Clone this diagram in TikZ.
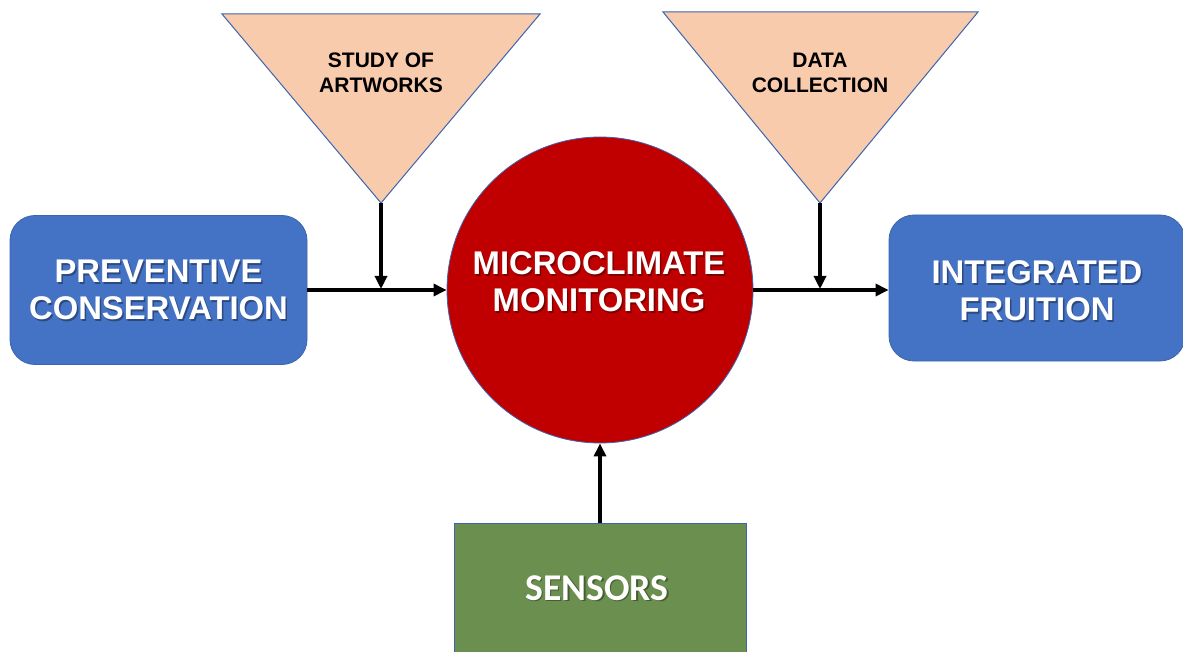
\documentclass[tikz,border=0pt]{standalone}
\usepackage{fontspec}
\setmainfont{Liberation Sans}
\newfontfamily\calib{Carlito}
\usetikzlibrary{arrows.meta}
\definecolor{boxblue}{RGB}{68,114,196}
\definecolor{edgeblue}{RGB}{60,100,175}
\definecolor{cred}{RGB}{192,0,0}
\definecolor{peach}{RGB}{248,203,173}
\definecolor{sgreen}{RGB}{106,143,78}
\tikzset{
  bluebox/.style={draw=edgeblue, line width=0.4pt, fill=boxblue, rounded corners=12.5pt},
  bigtxt/.style={text=white, font=\bfseries\fontsize{16.4}{18.5}\selectfont, align=center, inner sep=0pt},
  shtxt/.style={text=black, text opacity=0.35, font=\bfseries\fontsize{16.4}{18.5}\selectfont, align=center, inner sep=0pt},
  tritxt/.style={text=black, font=\bfseries\fontsize{10.5}{12.5}\selectfont, align=center, inner sep=0pt},
  tri/.style={draw=edgeblue, line width=0.5pt, fill=peach},
  arr/.style={line width=1.6pt, -{Triangle[length=6.5pt, width=6pt]}},
}
\begin{document}
\begin{tikzpicture}[x=0.5pt, y=-0.5pt]
\useasboundingbox (0,0) rectangle (1183,652);
\clip (0,0) rectangle (1183,652);
% boxes
\node[bluebox, minimum width=148.5pt, minimum height=74.5pt] (prev) at (158.5,290) {};
\node[bluebox, minimum width=148pt, minimum height=73pt] (integ) at (1037,288) {};
\node[circle, draw=edgeblue, line width=0.4pt, fill=cred, minimum size=153pt, inner sep=0pt] (circ) at (600,290) {};
\node[rectangle, draw=edgeblue, line width=0.4pt, fill=sgreen, minimum width=146pt, minimum height=70pt] (sens) at (600,593) {};
% triangles
\draw[tri] (222,14) -- (540,14) -- (381,203) -- cycle;
\coordinate (apexA) at (381,203);
\draw[tri] (663,12) -- (978,12) -- (820,203) -- cycle;
\coordinate (apexB) at (820,203);
\node[tritxt] (studytxt) at (381,73) {STUDY OF\\ARTWORKS};
\node[tritxt] (datatxt) at (820,73) {DATA\\COLLECTION};
% texts with shadow
\node[shtxt] (prevsh) at (160,291.5) {PREVENTIVE\\CONSERVATION};
\node[bigtxt] (prevtxt) at (158.5,290) {PREVENTIVE\\CONSERVATION};
\node[shtxt] (integsh) at (1038.5,292.5) {INTEGRATED\\FRUITION};
\node[bigtxt] (integtxt) at (1037,291) {INTEGRATED\\FRUITION};
\node[shtxt] (circsh) at (600.5,283.5) {MICROCLIMATE\\MONITORING};
\node[bigtxt] (circtxt) at (599,282) {MICROCLIMATE\\MONITORING};
\node[text=black, text opacity=0.35, font=\calib\bfseries\fontsize{18.9}{20}\selectfont, inner sep=0pt] (senssh) at (598.5,589.5) {SENSORS};
\node[text=white, font=\calib\bfseries\fontsize{18.9}{20}\selectfont, inner sep=0pt] (senstxt) at (597,588) {SENSORS};
% connectors
\coordinate (jA) at (381,289);
\coordinate (jB) at (820,289);
\draw[arr] (prev.east) -- (circ.west);
\draw[arr] (circ.east) -- (integ.west |- circ.east);
\draw[arr] (apexA) -- (jA);
\draw[arr] (apexB) -- (jB);
\draw[arr] (sens.north) -- (circ.south);
\end{tikzpicture}
\end{document}
